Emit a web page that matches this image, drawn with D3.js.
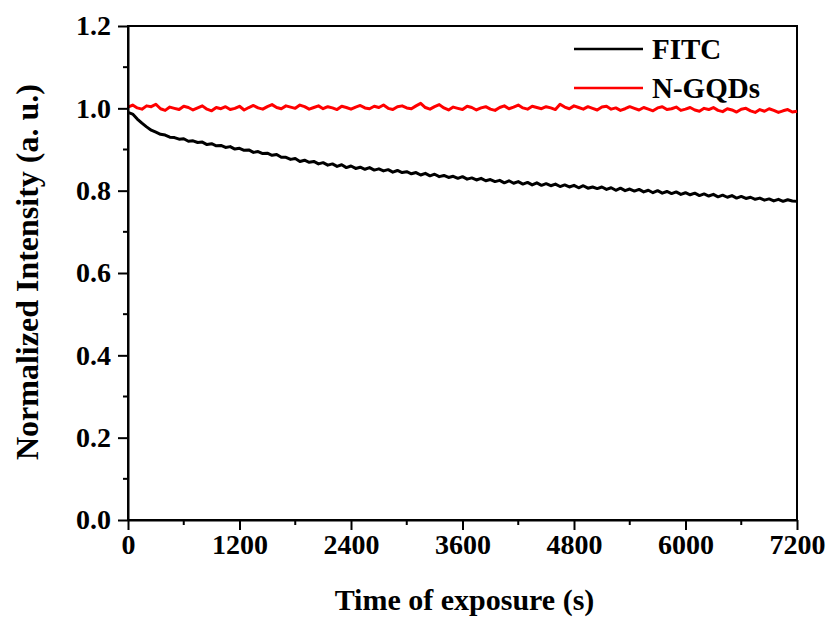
<!DOCTYPE html>
<html>
<head>
<meta charset="utf-8">
<script src="https://cdn.jsdelivr.net/npm/d3@7/dist/d3.min.js"></script>
<style>
  html, body { margin: 0; padding: 0; background: #fff; }
  svg { display: block; }
  text { font-family: "Liberation Serif", "Times New Roman", serif; font-weight: bold; fill: #000; }
</style>
</head>
<body>
<svg id="chart" width="833" height="621"></svg>
<script>
// ---- data ----
const timeStep = 50; // seconds between samples
const seriesNames = ["FITC", "N-GQDs"];
const seriesColors = ["#000000", "#ff0000"];
const xTickValues = [0, 1200, 2400, 3600, 4800, 6000, 7200];
const yTickValues = [0.0, 0.2, 0.4, 0.6, 0.8, 1.0, 1.2];

const fitc = [
0.990, 0.986, 0.974, 0.964, 0.955, 0.947, 0.942, 0.937, 0.935, 0.930,
0.929, 0.925, 0.926, 0.920, 0.921, 0.917, 0.918, 0.912, 0.914, 0.909,
0.910, 0.905, 0.907, 0.901, 0.903, 0.898, 0.899, 0.893, 0.895, 0.890,
0.891, 0.886, 0.888, 0.881, 0.881, 0.876, 0.878, 0.871, 0.874, 0.869,
0.871, 0.865, 0.868, 0.862, 0.865, 0.859, 0.863, 0.856, 0.860, 0.854,
0.857, 0.852, 0.856, 0.850, 0.853, 0.848, 0.851, 0.845, 0.849, 0.844,
0.846, 0.841, 0.844, 0.838, 0.842, 0.836, 0.840, 0.834, 0.837, 0.832,
0.835, 0.830, 0.834, 0.828, 0.831, 0.826, 0.830, 0.824, 0.827, 0.822,
0.825, 0.819, 0.824, 0.818, 0.822, 0.816, 0.820, 0.814, 0.819, 0.813,
0.817, 0.812, 0.816, 0.810, 0.814, 0.809, 0.813, 0.807, 0.812, 0.806,
0.809, 0.805, 0.809, 0.803, 0.807, 0.801, 0.806, 0.800, 0.804, 0.799,
0.803, 0.797, 0.801, 0.795, 0.800, 0.794, 0.798, 0.793, 0.797, 0.791,
0.795, 0.790, 0.794, 0.788, 0.792, 0.787, 0.791, 0.785, 0.789, 0.784,
0.788, 0.782, 0.786, 0.781, 0.784, 0.779, 0.782, 0.777, 0.780, 0.775,
0.779, 0.774, 0.778, 0.775, 0.774
];

const ngqds = [
1.003, 1.008, 1.001, 0.998, 1.006, 1.004, 1.010, 0.999, 0.995, 1.003,
1.000, 0.997, 1.005, 1.002, 0.996, 1.001, 1.006, 0.998, 0.994, 1.002,
0.999, 1.004, 0.997, 1.000, 1.005, 0.996, 1.002, 1.007, 1.001, 0.998,
1.004, 1.009, 1.002, 0.999, 1.006, 1.003, 1.000, 1.008, 1.004, 0.998,
1.002, 1.006, 0.999, 1.004, 1.001, 0.997, 1.005, 1.002, 0.998, 1.003,
1.007, 1.001, 0.999, 1.005, 1.002, 1.008, 1.000, 0.997, 1.004, 1.006,
1.001, 0.999, 1.006, 1.012, 1.002, 0.998, 1.004, 1.009, 1.001, 0.996,
1.003, 1.000, 0.997, 1.005, 1.002, 0.996, 1.001, 1.004, 0.998, 0.995,
1.002, 1.006, 0.999, 1.003, 1.008, 1.001, 0.998, 1.005, 1.002, 0.999,
1.004, 1.001, 0.997, 1.010, 1.003, 0.999, 1.006, 1.002, 0.998, 1.004,
1.000, 0.996, 1.003, 1.005, 0.998, 1.001, 0.995, 0.999, 1.004, 1.000,
0.996, 1.002, 0.998, 0.994, 1.001, 1.004, 0.997, 0.999, 1.003, 0.995,
0.998, 1.002, 0.996, 0.993, 1.000, 0.997, 1.002, 0.995, 0.992, 0.999,
0.996, 0.991, 0.998, 1.000, 0.994, 0.990, 0.997, 0.993, 0.999, 0.995,
0.990, 0.994, 0.997, 0.991, 0.993
];

// ---- layout ----
const svg = d3.select("#chart");
const mLeft = 128, mRight = 797, mTop = 26, mBottom = 520;

const x = d3.scaleLinear().domain([0, 7200]).range([mLeft, mRight]);
const y = d3.scaleLinear().domain([0, 1.2]).range([mBottom, mTop]);

// minor ticks
const xMinor = [600, 1800, 3000, 4200, 5400, 6600];
const yMinor = [0.1, 0.3, 0.5, 0.7, 0.9, 1.1];

// frame
svg.append("rect")
  .attr("x", mLeft).attr("y", mTop)
  .attr("width", mRight - mLeft).attr("height", mBottom - mTop)
  .attr("fill", "none").attr("stroke", "#000").attr("stroke-width", 2);

// lines
const series = [fitc, ngqds];
const line = d3.line()
  .x((d, i) => x(i * timeStep))
  .y(d => y(d));

series.forEach((vals, k) => {
  svg.append("path")
    .datum(vals)
    .attr("d", line)
    .attr("fill", "none")
    .attr("stroke", seriesColors[k])
    .attr("stroke-width", 3)
    .attr("stroke-linejoin", "round");
});

// axes
const xAxis = d3.axisBottom(x).tickValues(xTickValues).tickSize(10).tickSizeOuter(0).tickPadding(4)
  .tickFormat(d3.format("d"));
const gx = svg.append("g").attr("transform", `translate(0,${mBottom})`).call(xAxis);
gx.append("g").selectAll("line").data(xMinor).join("line")
  .attr("x1", d => x(d)).attr("x2", d => x(d)).attr("y1", 0).attr("y2", 5);

const yAxis = d3.axisLeft(y).tickValues(yTickValues).tickSize(10).tickSizeOuter(0).tickPadding(7)
  .tickFormat(d3.format(".1f"));
const gy = svg.append("g").attr("transform", `translate(${mLeft},0)`).call(yAxis);
gy.append("g").selectAll("line").data(yMinor).join("line")
  .attr("x1", 0).attr("x2", -5).attr("y1", d => y(d)).attr("y2", d => y(d));

[gx, gy].forEach(g => {
  g.select(".domain").attr("stroke", "#000").attr("stroke-width", 2);
  g.selectAll("line").attr("stroke", "#000").attr("stroke-width", 2);
  g.selectAll("text").attr("font-size", 28).attr("font-family", "Liberation Serif").attr("font-weight", "bold").attr("fill", "#000");
});

// axis titles
svg.append("text")
  .attr("x", (mLeft + mRight) / 2 + 2).attr("y", 610)
  .attr("text-anchor", "middle").attr("font-size", 30)
  .text("Time of exposure (s)");

svg.append("text")
  .attr("transform", `translate(38,${(mTop + mBottom) / 2 - 1}) rotate(-90)`)
  .attr("text-anchor", "middle").attr("font-size", 32)
  .text("Normalized Intensity (a. u.)");

// legend
const legendY = [49, 88];
seriesNames.forEach((name, k) => {
  svg.append("line")
    .attr("x1", 574).attr("x2", 643)
    .attr("y1", legendY[k]).attr("y2", legendY[k])
    .attr("stroke", seriesColors[k]).attr("stroke-width", 2.6);
  svg.append("text")
    .attr("x", 652).attr("y", legendY[k] + 10)
    .attr("font-size", 29)
    .text(name);
});
</script>
</body>
</html>
